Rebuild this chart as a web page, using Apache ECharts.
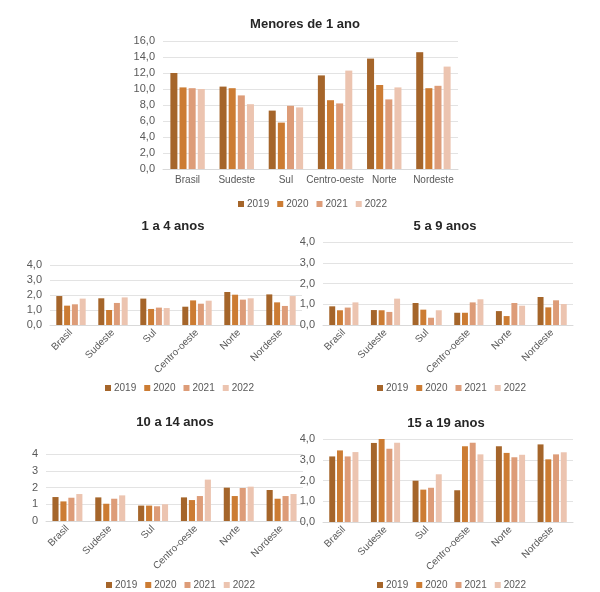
<!DOCTYPE html>
<html>
<head>
<meta charset="utf-8">
<script src="https://cdn.jsdelivr.net/npm/echarts@6/dist/echarts.min.js"></script>
<style>
  html, body { margin: 0; padding: 0; background: #fff; }
  #chart { width: 600px; height: 592px; }
</style>
</head>
<body>
<div id="chart"></div>
<script>
// categorias e anos
const regioes = ['Brasil', 'Sudeste', 'Sul', 'Centro-oeste', 'Norte', 'Nordeste'];
const anos = ['2019', '2020', '2021', '2022'];
const cores = ['#a5652a', '#cc7c33', '#dd9c78', '#ecc4b0'];

// valores por faixa etária (uma lista por ano, na ordem das regiões)
const menores1 = [
  [12.0, 10.3, 7.3, 11.7, 13.8, 14.6],
  [10.2, 10.1, 5.8, 8.6, 10.5, 10.1],
  [10.1, 9.2, 7.9, 8.2, 8.7, 10.4],
  [10.0, 8.1, 7.7, 12.3, 10.2, 12.8]
];
const de1a4 = [
  [1.93, 1.78, 1.76, 1.22, 2.20, 2.04],
  [1.29, 1.00, 1.07, 1.64, 2.02, 1.51],
  [1.38, 1.47, 1.16, 1.42, 1.69, 1.27],
  [1.76, 1.84, 1.13, 1.62, 1.78, 1.93]
];
const de5a9 = [
  [0.90, 0.72, 1.06, 0.59, 0.67, 1.35],
  [0.71, 0.71, 0.74, 0.59, 0.43, 0.85],
  [0.84, 0.63, 0.35, 1.09, 1.06, 1.19],
  [1.09, 1.27, 0.71, 1.24, 0.93, 1.01]
];
const de10a14 = [
  [1.43, 1.41, 0.92, 1.41, 1.99, 1.85],
  [1.17, 1.03, 0.92, 1.25, 1.49, 1.33],
  [1.39, 1.33, 0.88, 1.49, 1.97, 1.49],
  [1.61, 1.53, 1.00, 2.47, 2.05, 1.61]
];
const de15a19 = [
  [3.16, 3.81, 1.99, 1.53, 3.65, 3.74],
  [3.45, 4.00, 1.56, 3.65, 3.33, 3.02],
  [3.16, 3.53, 1.65, 3.82, 3.12, 3.26],
  [3.37, 3.82, 2.30, 3.26, 3.24, 3.36]
];

const fonte = '"Liberation Sans Narrow", "Liberation Sans", Arial, sans-serif';
const virgula = v => v.toFixed(1).replace('.', ',');

// um painel por faixa etária
const paineis = [
  { titulo: 'Menores de 1 ano', dados: menores1, max: 16, intervalo: 2, fmt: virgula, rot: 0,
    tituloX: 300, tituloY: 13, grid: { left: 163, top: 41, width: 295, height: 128 }, legendaX: 303, legendaY: 194 },
  { titulo: '1 a 4 anos', dados: de1a4, max: 4, intervalo: 1, fmt: virgula, rot: 45,
    tituloX: 168, tituloY: 215, grid: { left: 50, top: 265, width: 252, height: 60 }, legendaX: 170, legendaY: 378 },
  { titulo: '5 a 9 anos', dados: de5a9, max: 4, intervalo: 1, fmt: virgula, rot: 45,
    tituloX: 440, tituloY: 215, grid: { left: 323, top: 242, width: 250, height: 83 }, legendaX: 442, legendaY: 378 },
  { titulo: '10 a 14 anos', dados: de10a14, max: 4, intervalo: 1, fmt: v => String(v), rot: 45,
    tituloX: 170, tituloY: 411, grid: { left: 46, top: 454, width: 257, height: 67 }, legendaX: 171, legendaY: 575 },
  { titulo: '15 a 19 anos', dados: de15a19, max: 4, intervalo: 1, fmt: virgula, rot: 45,
    tituloX: 441, tituloY: 412, grid: { left: 323, top: 439, width: 250, height: 83 }, legendaX: 442, legendaY: 575 }
];

const title = [], grid = [], xAxis = [], yAxis = [], legend = [], series = [];

paineis.forEach((p, i) => {
  title.push({
    text: p.titulo, left: p.tituloX, top: p.tituloY, textAlign: 'center',
    textStyle: { fontFamily: fonte, fontSize: 13, fontWeight: 'bold', color: '#262626' }
  });
  grid.push(Object.assign({ containLabel: false }, p.grid));
  xAxis.push({
    type: 'category', gridIndex: i, data: regioes,
    axisLine: { lineStyle: { color: '#d9d9d9' } },
    axisTick: { show: false },
    axisLabel: { color: '#595959', fontFamily: fonte, fontSize: 10, rotate: p.rot, margin: 6, interval: 0 }
  });
  yAxis.push({
    type: 'value', gridIndex: i, min: 0, max: p.max, interval: p.intervalo,
    axisLine: { show: false }, axisTick: { show: false },
    splitLine: { lineStyle: { color: '#e3e3e3' } },
    axisLabel: { color: '#595959', fontFamily: fonte, fontSize: 11, formatter: p.fmt, margin: 8 }
  });
  legend.push({
    data: anos, left: p.legendaX - 70, top: p.legendaY, width: 160,
    icon: 'rect', itemWidth: 6, itemHeight: 6, itemGap: 8,
    textStyle: { color: '#595959', fontFamily: fonte, fontSize: 10, padding: [0, 0, 0, -2] }
  });
  anos.forEach((ano, k) => {
    series.push({
      name: ano, type: 'bar', xAxisIndex: i, yAxisIndex: i,
      data: p.dados[k],
      itemStyle: { color: cores[k] },
      barGap: '30%', barCategoryGap: '30%',
      emphasis: { disabled: true }
    });
  });
});

const chart = echarts.init(document.getElementById('chart'));
chart.setOption({ animation: false, color: cores, title, grid, xAxis, yAxis, legend, series });
</script>
</body>
</html>
